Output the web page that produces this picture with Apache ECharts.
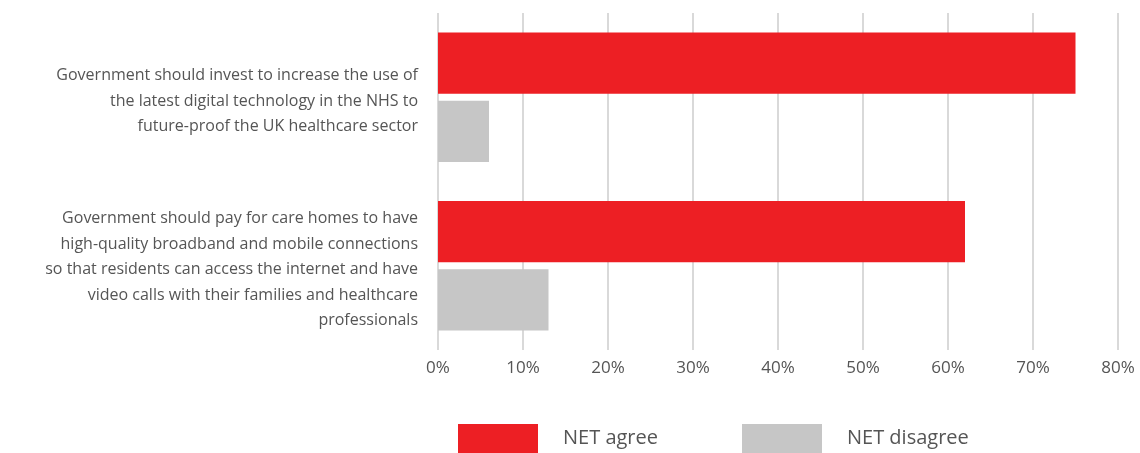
<!DOCTYPE html>
<html>
<head>
<meta charset="utf-8">
<script src="https://cdn.jsdelivr.net/npm/echarts@6/dist/echarts.min.js"></script>
<style>html,body{margin:0;padding:0;background:#fff;}#c{width:1140px;height:453px;}</style>
</head>
<body>
<div id="c"></div>
<script>
const categories = [
  "Government should invest to increase the use of\nthe latest digital technology in the NHS to\nfuture-proof the UK healthcare sector",
  "Government should pay for care homes to have\nhigh-quality broadband and mobile connections\nso that residents can access the internet and have\nvideo calls with their families and healthcare\nprofessionals"
];
const seriesNames = ["NET agree", "NET disagree"];
const agreeValues = [75, 62];
const disagreeValues = [6, 13];
const xTicks = [0, 10, 20, 30, 40, 50, 60, 70, 80];

const chart = echarts.init(document.getElementById('c'));
const font = "'Open Sans', sans-serif";
chart.setOption({
  animation: false,
  textStyle: { fontFamily: font },
  grid: { left: 438, right: 22, top: 13, bottom: 103, containLabel: false },
  legend: {
    top: 419,
    left: 453,
    itemWidth: 80,
    itemHeight: 29,
    itemGap: 84,
    icon: 'rect',
    textStyle: { fontSize: 20, color: '#555', fontFamily: font, padding: [0, 0, 0, 20] },
    data: seriesNames
  },
  xAxis: {
    type: 'value',
    min: xTicks[0],
    max: xTicks[xTicks.length - 1],
    interval: 10,
    axisLine: { show: false },
    axisTick: { show: false },
    splitLine: { show: true, lineStyle: { color: '#cccccc', width: 1.5 } },
    axisLabel: { formatter: '{value}%', fontSize: 17, color: '#555', margin: 10, fontFamily: font }
  },
  yAxis: {
    type: 'category',
    inverse: true,
    data: categories,
    axisLine: { show: false },
    axisTick: { show: false },
    axisLabel: {
      margin: 20,
      align: 'right',
      formatter: function (v) {
        return '{s| }\n' + v.split('\n').map(function (l) { return '{a|' + l + '}'; }).join('\n');
      },
      rich: {
        s: { fontSize: 1, lineHeight: 8 },
        a: { fontSize: 16, color: '#555', lineHeight: 25.5, fontFamily: font, align: 'right' }
      }
    }
  },
  series: [
    { name: seriesNames[0], type: 'bar', data: agreeValues, itemStyle: { color: '#ED1F24' }, barGap: '11%', barCategoryGap: '23%' },
    { name: seriesNames[1], type: 'bar', data: disagreeValues, itemStyle: { color: '#C6C6C6' }, barGap: '11%', barCategoryGap: '23%' }
  ]
});
</script>
</body>
</html>
